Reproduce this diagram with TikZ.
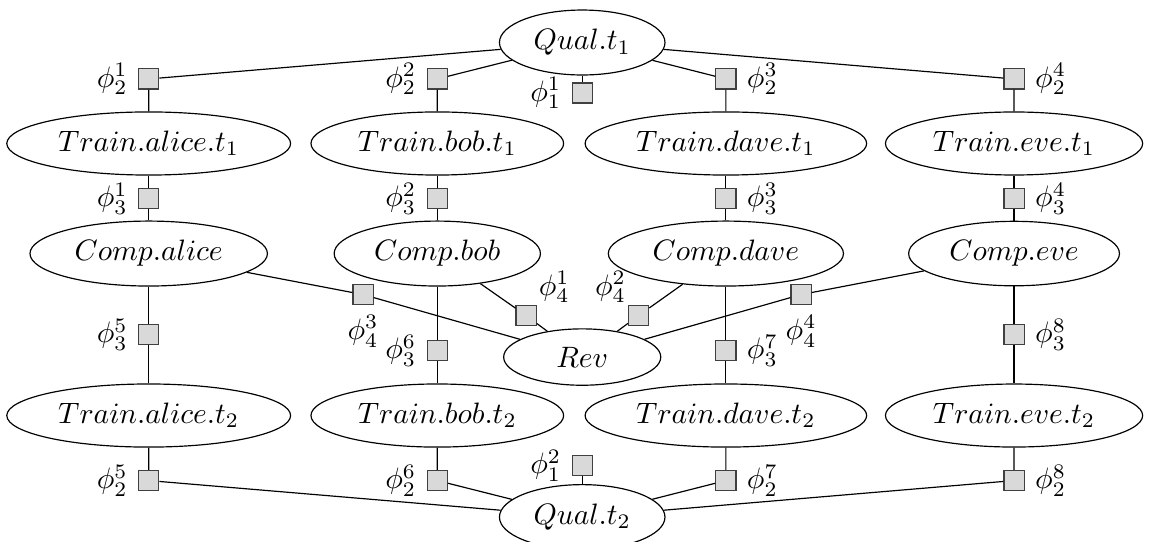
\documentclass[tikz,border=0pt]{standalone}
\usepackage{amsmath,amssymb}
\usepackage{xcolor}
\usepackage{tikz}
\usetikzlibrary{positioning,shapes}

\begin{document}
\begin{tikzpicture}[
    rv/.style={ellipse, draw, minimum height=0.75cm},
    fac/.style={rectangle, draw=black!75, fill=gray!30, minimum size=0.24cm, inner sep=0pt}
]
\useasboundingbox (0,0) rectangle (13.70,-6.44);

% Column positions
\def\colA{1.77}
\def\colB{5.205}
\def\colC{8.64}
\def\colD{12.07}
\def\colM{6.93}

% === Quality at t_1 ===
\node[rv] (q1) at (\colM, -0.506) {$Qual.t_1$};
\node[fac, label=left:$\phi^1_1$] (f11) at (\colM, -1.107) {};

% Factors between quality and training (t_1)
\node[fac, label=left:$\phi^1_2$]  (f21) at (\colA, -0.94) {};
\node[fac, label=left:$\phi^2_2$]  (f22) at (\colB, -0.94) {};
\node[fac, label=right:$\phi^3_2$] (f23) at (\colC, -0.94) {};
\node[fac, label=right:$\phi^4_2$] (f24) at (\colD, -0.94) {};

% === Row: Train at t_1 ===
\node[rv] (ta1) at (\colA, -1.708) {$Train.alice.t_1$};
\node[rv] (tb1) at (\colB, -1.708) {$Train.bob.t_1$};
\node[rv] (td1) at (\colC, -1.708) {$Train.dave.t_1$};
\node[rv] (te1) at (\colD, -1.708) {$Train.eve.t_1$};

% Factors between training and competence
\node[fac, label=left:$\phi^1_3$]  (f31) at (\colA, -2.363) {};
\node[fac, label=left:$\phi^2_3$]  (f32) at (\colB, -2.363) {};
\node[fac, label=right:$\phi^3_3$] (f33) at (\colC, -2.363) {};
\node[fac, label=right:$\phi^4_3$] (f34) at (\colD, -2.363) {};

% === Row: Competence ===
\node[rv] (ca) at (\colA, -3.018) {$Comp.alice$};
\node[rv] (cb) at (\colB, -3.018) {$Comp.bob$};
\node[rv] (cd) at (\colC, -3.018) {$Comp.dave$};
\node[rv] (ce) at (\colD, -3.018) {$Comp.eve$};

% === Revenue and its factors ===
\node[rv, minimum width=1.87cm, minimum height=0.67cm] (rev) at (\colM, -4.25) {$Rev$};
\node[fac, label={[inner sep=0.5pt]above right:$\phi^1_4$}] (f41) at (6.262, -3.756) {};
\node[fac, label={[inner sep=0.5pt]above left:$\phi^2_4$}]  (f42) at (7.601, -3.756) {};
\node[fac, label=below:$\phi^3_4$] (f43) at (4.321, -3.506) {};
\node[fac, label=below:$\phi^4_4$] (f44) at (9.536, -3.506) {};

% Factors between competence and training (t_2)
\node[fac, label=left:$\phi^5_3$]  (f35) at (\colA, -3.982) {};
\node[fac, label=left:$\phi^6_3$]  (f36) at (\colB, -4.173) {};
\node[fac, label=right:$\phi^7_3$] (f37) at (\colC, -4.173) {};
\node[fac, label=right:$\phi^8_3$] (f38) at (\colD, -3.982) {};

% === Row: Train at t_2 ===
\node[rv] (ta2) at (\colA, -4.946) {$Train.alice.t_2$};
\node[rv] (tb2) at (\colB, -4.946) {$Train.bob.t_2$};
\node[rv] (td2) at (\colC, -4.946) {$Train.dave.t_2$};
\node[rv] (te2) at (\colD, -4.946) {$Train.eve.t_2$};

% Factors between training (t_2) and quality
\node[fac, label=left:$\phi^5_2$]  (f25) at (\colA, -5.72) {};
\node[fac, label=left:$\phi^6_2$]  (f26) at (\colB, -5.72) {};
\node[fac, label=right:$\phi^7_2$] (f27) at (\colC, -5.72) {};
\node[fac, label=right:$\phi^8_2$] (f28) at (\colD, -5.72) {};

% === Quality at t_2 ===
\node[rv] (q2) at (\colM, -6.155) {$Qual.t_2$};
\node[fac, label=left:$\phi^2_1$] (f12) at (\colM, -5.542) {};

% Edges at the top
\draw (q1) -- (f11);
\draw (q1) -- (f21) -- (ta1);
\draw (q1) -- (f22) -- (tb1);
\draw (q1) -- (f23) -- (td1);
\draw (q1) -- (f24) -- (te1);

% Training t_1 to competence
\draw (ta1) -- (f31) -- (ca);
\draw (tb1) -- (f32) -- (cb);
\draw (td1) -- (f33) -- (cd);
\draw (te1) -- (f34) -- (ce);

% Competence to revenue
\draw (cb) -- (f41) -- (rev);
\draw (cd) -- (f42) -- (rev);
\draw (ca) -- (f43) -- (rev);
\draw (ce) -- (f44) -- (rev);

% Competence to training t_2
\draw (ca) -- (f35) -- (ta2);
\draw (cb) -- (f36) -- (tb2);
\draw (cd) -- (f37) -- (td2);
\draw (ce) -- (f38) -- (te2);

% Edges at the bottom
\draw (q2) -- (f12);
\draw (ta2) -- (f25) -- (q2);
\draw (tb2) -- (f26) -- (q2);
\draw (td2) -- (f27) -- (q2);
\draw (te2) -- (f28) -- (q2);

\end{tikzpicture}
\end{document}
